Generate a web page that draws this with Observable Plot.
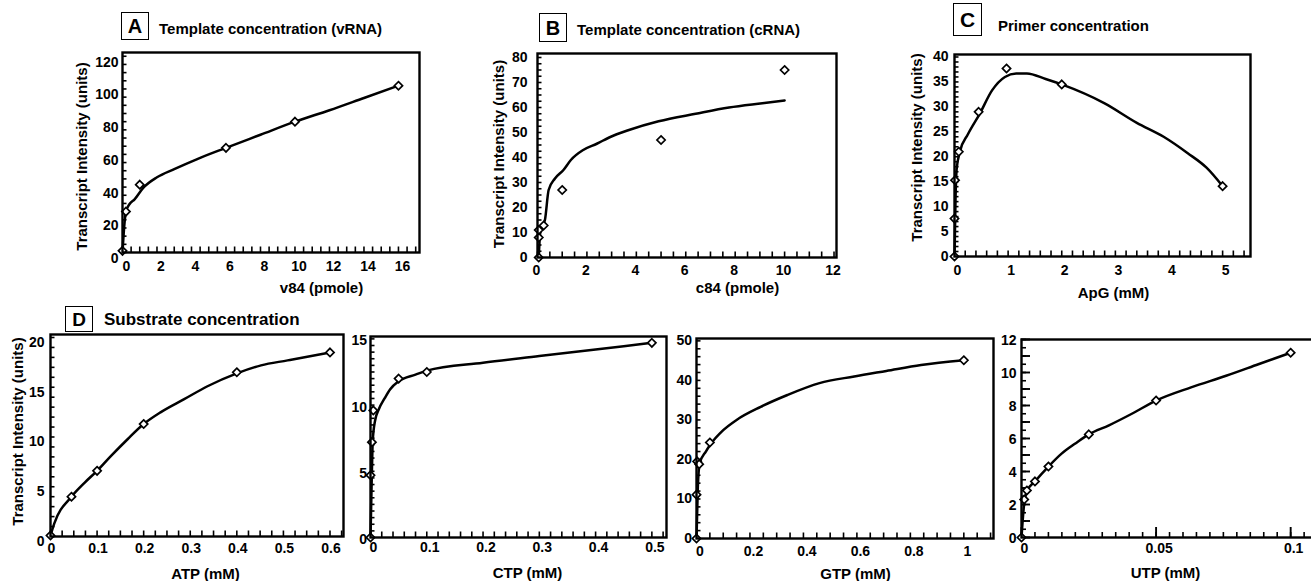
<!DOCTYPE html>
<html><head><meta charset="utf-8">
<script src="https://cdn.jsdelivr.net/npm/d3@7"></script>
<script src="https://cdn.jsdelivr.net/npm/@observablehq/plot@0.6"></script>
<style>
html,body{margin:0;padding:0;background:#fff;}
#fig{position:relative;width:1311px;height:581px;overflow:hidden;background:#fff;font-family:"Liberation Sans",Arial,Helvetica,sans-serif;color:#000;}
.panel{position:absolute;}
.panel svg{overflow:visible;max-width:none;display:block;}
.tag{position:absolute;box-sizing:border-box;border:1.6px solid #000;display:flex;align-items:center;justify-content:center;font-weight:bold;font-size:20px;line-height:1;}
.ttl{position:absolute;font-weight:bold;font-size:15px;line-height:1;white-space:nowrap;transform:translateY(-50%);}
</style></head><body><div id="fig"></div><script>
// ---------- data ----------
// A: template concentration (vRNA)
const aX = [0, 0.2, 1, 6, 10, 16];
const aY = [1, 25, 41.5, 64, 80, 102];
const aFitX = [0, 0.1, 0.2, 0.4, 0.7, 1.2, 2, 3, 4.3, 6, 8, 10, 12, 14, 16];
const aFitY = [0, 16, 25, 29.5, 32.5, 39.5, 46, 51, 57, 64, 72, 80, 87, 94.5, 102];
const aXTicks = [0, 2, 4, 6, 8, 10, 12, 14, 16];
const aYTicks = [0, 20, 40, 60, 80, 100, 120];
// B: template concentration (cRNA)
const bX = [0.05, 0.05, 0.05, 0.25, 1, 5, 10];
const bY = [0, 8, 11, 12.8, 27, 47, 75];
const bFitX = [0.05, 0.12, 0.3, 0.45, 0.7, 1.05, 1.35, 1.85, 2.4, 2.9, 3.7, 4.9, 6.4, 7.75, 9.1, 10];
const bFitY = [0, 11, 15, 27, 31.5, 35, 39, 43, 45.5, 48, 51, 54.5, 57.5, 60, 61.7, 62.8];
const bXTicks = [0, 2, 4, 6, 8, 10, 12];
const bYTicks = [0, 10, 20, 30, 40, 50, 60, 70, 80];
// C: primer concentration
const cX = [0, 0, 0.01, 0.08, 0.45, 0.97, 2, 5];
const cY = [0, 7.6, 15.3, 21, 29, 37.7, 34.5, 14.1];
const cFitX = [0, 0.02, 0.04, 0.1, 0.25, 0.47, 0.7, 0.94, 1.15, 1.35, 1.7, 2, 2.8, 3.4, 3.9, 4.35, 4.7, 5];
const cFitY = [0, 12, 17.5, 21, 24.5, 28.6, 33.3, 36, 36.7, 36.7, 35.6, 34.5, 30.7, 26.8, 24, 20.7, 17.8, 14.1];
const cXTicks = [0, 1, 2, 3, 4, 5];
const cYTicks = [0, 5, 10, 15, 20, 25, 30, 35, 40];
// D: substrate concentration — ATP
const atpX = [0, 0.045, 0.1, 0.2, 0.4, 0.6];
const atpY = [0.1, 4, 6.6, 11.3, 16.5, 18.5];
const atpFitX = [0, 0.008, 0.045, 0.073, 0.1, 0.13, 0.166, 0.2, 0.237, 0.287, 0.337, 0.4, 0.452, 0.509, 0.6];
const atpFitY = [0.1, 1.3, 4, 5.4, 6.6, 8.1, 9.8, 11.3, 12.5, 13.8, 15.1, 16.4, 17.2, 17.7, 18.5];
const atpXTicks = [0, 0.1, 0.2, 0.3, 0.4, 0.5, 0.6];
const atpYTicks = [0, 5, 10, 15, 20];
// CTP
const ctpX = [0, 0, 0.0025, 0.005, 0.05, 0.1, 0.5];
const ctpY = [0, 4.7, 7.2, 9.6, 12, 12.5, 14.7];
const ctpFitX = [0, 0.002, 0.004, 0.008, 0.015, 0.025, 0.035, 0.05, 0.08, 0.1, 0.2, 0.3, 0.4, 0.5];
const ctpFitY = [0, 4, 7.3, 8.8, 9.7, 10.5, 11.2, 11.8, 12.3, 12.6, 13.2, 13.7, 14.2, 14.7];
const ctpXTicks = [0, 0.1, 0.2, 0.3, 0.4, 0.5];
const ctpYTicks = [0, 5, 10, 15];
// GTP
const gtpX = [0, 0, 0.0025, 0.01, 0.05, 1];
const gtpY = [0, 11.1, 19.5, 18.8, 24.3, 45.1];
const gtpFitX = [0, 0.005, 0.012, 0.035, 0.05, 0.1, 0.15, 0.24, 0.34, 0.46, 0.59, 0.71, 0.84, 1];
const gtpFitY = [0, 13, 19, 22, 23.6, 27.4, 30, 33.3, 36.3, 39.3, 41, 42.4, 43.9, 45.1];
const gtpXTicks = [0, 0.2, 0.4, 0.6, 0.8, 1];
const gtpYTicks = [0, 10, 20, 30, 40, 50];
// UTP
const utpX = [0, 0.001, 0.002, 0.005, 0.01, 0.025, 0.05, 0.1];
const utpY = [0, 2.3, 2.85, 3.4, 4.3, 6.25, 8.3, 11.2];
const utpFitX = [0, 0.0009, 0.002, 0.005, 0.01, 0.015, 0.02, 0.025, 0.0325, 0.041, 0.05, 0.063, 0.076, 0.088, 0.1];
const utpFitY = [0, 1.9, 2.8, 3.4, 4.3, 5.1, 5.7, 6.25, 6.8, 7.5, 8.3, 9.1, 9.8, 10.5, 11.2];
const utpXTicks = [0, 0.05, 0.1];
const utpYTicks = [0, 2, 4, 6, 8, 10, 12];

const yTitle = "Transcript Intensity (units)";
// ------------------------------------------------

const FONT = "'Liberation Sans', Arial, Helvetica, sans-serif";
const fig = document.getElementById("fig");
const zip = (xs, ys) => xs.map((x, i) => ({x, y: ys[i]}));
const rng = (a, b, s) => d3.range(Math.round((b - a) / s) + 1).map(i => +(a + i * s).toFixed(6));

function panel(p) {
  const [L, T, R, B] = p.frame;
  const fw = R - L, fh = B - T, m = 60;
  const [x0, x1] = p.xDomain, [y0, y1] = p.yDomain;
  const ux = (x1 - x0) / fw, uy = (y1 - y0) / fh; // data units per pixel
  const marks = [];
  // inward tick marks along the bottom and left edges
  const xl = p.xMinorLen || 5.5, yl = p.yMinorLen || 4.5;
  marks.push(Plot.ruleX(p.xMinor, {x: d => d, y1: y0, y2: y0 + xl * uy, stroke: "#000", strokeWidth: 1.6}));
  if (p.xMajor) marks.push(Plot.ruleX(p.xMajor, {x: d => d, y1: y0, y2: y0 + 10 * uy, stroke: "#000", strokeWidth: 1.9}));
  marks.push(Plot.ruleY(p.yMinor, {y: d => d, x1: x0, x2: x0 + yl * ux, stroke: "#000", strokeWidth: 1.6}));
  if (p.yMajor) marks.push(Plot.ruleY(p.yMajor, {y: d => d, x1: x0, x2: x0 + 9 * ux, stroke: "#000", strokeWidth: 1.9}));
  marks.push(Plot.axisX(p.xTicks, {tickSize: 0, tickPadding: p.xPad, dx: p.xdx || 0, tickFormat: d => String(d), label: null, fontSize: 14, fontWeight: "bold"}));
  marks.push(Plot.axisY(p.yTicks, {tickSize: 0, tickPadding: p.yPad, dy: p.ydy || 0, tickFormat: d => String(d), label: null, fontSize: 14, fontWeight: "bold"}));
  marks.push(Plot.line(zip(p.fitX, p.fitY), {x: "x", y: "y", curve: "monotone-x", stroke: "#000", strokeWidth: 2.5}));
  marks.push(Plot.dot(zip(p.ptX, p.ptY), {x: "x", y: "y", symbol: "diamond2", r: 3.7, fill: "#fff", stroke: "#000", strokeWidth: 1.7}));
  marks.push(Plot.frame({stroke: "#000", strokeWidth: 2.4}));
  marks.push(Plot.text([p.xTitle], {text: d => d, frameAnchor: "bottom-left", textAnchor: "middle", lineAnchor: "middle",
    dx: p.xTitlePos[0] - L, dy: p.xTitlePos[1] - B, fontSize: 15, fontWeight: "bold"}));
  if (p.yTitlePos) marks.push(Plot.text([yTitle], {text: d => d, frameAnchor: "left", textAnchor: "middle", lineAnchor: "middle", rotate: -90,
    dx: p.yTitlePos[0] - L, dy: p.yTitlePos[1] - (T + B) / 2, fontSize: 15, fontWeight: "bold"}));
  const svg = Plot.plot({
    width: fw + 2 * m, height: fh + 2 * m, margin: m,
    x: {domain: p.xDomain}, y: {domain: p.yDomain},
    style: {fontFamily: FONT, fontSize: "14px", fontWeight: "bold", color: "#000", background: "transparent", overflow: "visible", maxWidth: "none"},
    marks
  });
  const div = document.createElement("div");
  div.className = "panel";
  div.style.left = (L - m) + "px";
  div.style.top = (T - m) + "px";
  div.style.width = (fw + 2 * m) + "px";
  div.appendChild(svg);
  fig.appendChild(div);
}

panel({frame: [122, 52, 419, 252], xDomain: [0, 17.22], yDomain: [0, 122.3],
  xTicks: aXTicks, yTicks: aYTicks, xMinor: rng(0, 17, 0.5), yMinor: rng(0, 120, 5),
  xPad: 9, yPad: 4, xdx: 4, ydy: 6,
  fitX: aFitX, fitY: aFitY, ptX: aX, ptY: aY,
  xTitle: "v84 (pmole)", xTitlePos: [321, 287.5], yTitlePos: [82, 156]});

panel({frame: [537, 53, 836, 257], xDomain: [0, 12.1], yDomain: [0, 81.6],
  xTicks: bXTicks, yTicks: bYTicks, xMinor: rng(0, 12, 0.5), yMinor: rng(0, 80, 2.5),
  xPad: 8, yPad: 10, xdx: -1, ydy: 0,
  fitX: bFitX, fitY: bFitY, ptX: bX, ptY: bY,
  xTitle: "c84 (pmole)", xTitlePos: [737, 288], yTitlePos: [499, 153.5]});

panel({frame: [954, 54, 1250, 256], xDomain: [0, 5.52], yDomain: [0, 40.5],
  xTicks: cXTicks, yTicks: cYTicks, xMinor: rng(0, 5.4, 0.2), yMinor: rng(0, 40, 1),
  xPad: 9, yPad: 6, xdx: 3, ydy: 0,
  fitX: cFitX, fitY: cFitY, ptX: cX, ptY: cY,
  xTitle: "ApG (mM)", xTitlePos: [1113, 292.5], yTitlePos: [917, 147]});

panel({frame: [50, 334, 343, 536], xDomain: [0, 0.629], yDomain: [0, 20.3],
  xTicks: atpXTicks, yTicks: atpYTicks, xMinor: rng(0, 0.625, 0.025), yMinor: rng(0, 20, 1),
  xPad: 7, yPad: 6, xdx: 1, ydy: 5,
  fitX: atpFitX, fitY: atpFitY, ptX: atpX, ptY: atpY,
  xTitle: "ATP (mM)", xTitlePos: [205, 573.5], yTitlePos: [17.5, 431]});

panel({frame: [370, 336, 666, 537], xDomain: [0, 0.526], yDomain: [0, 15.18],
  xTicks: ctpXTicks, yTicks: ctpYTicks, xMinor: rng(0, 0.52, 0.02), yMinor: rng(0, 15, 0.5),
  xPad: 5, yPad: 3.5, xdx: 3, ydy: 2,
  fitX: ctpFitX, fitY: ctpFitY, ptX: ctpX, ptY: ctpY,
  xTitle: "CTP (mM)", xTitlePos: [527, 573]});

panel({frame: [696, 338, 993, 538], xDomain: [0, 1.111], yDomain: [0, 50.6],
  xTicks: gtpXTicks, yTicks: gtpYTicks, xMinor: rng(0, 1.1, 0.05), yMinor: rng(0, 50, 2),
  xPad: 8, yPad: 4.5, xdx: 3.5, ydy: 0,
  fitX: gtpFitX, fitY: gtpFitY, ptX: gtpX, ptY: gtpY,
  xTitle: "GTP (mM)", xTitlePos: [855, 574]});

panel({frame: [1021, 339, 1330, 537], xDomain: [0, 0.1148], yDomain: [0, 12],
  xTicks: utpXTicks, yTicks: utpYTicks, xMinor: rng(0, 0.11, 0.005), xMinorLen: 5, xMajor: utpXTicks,
  yMinor: rng(0, 12, 0.5), yMinorLen: 5, yMajor: rng(0, 12, 1),
  xPad: 6, yPad: 5, xdx: 3, ydy: 1,
  fitX: utpFitX, fitY: utpFitY, ptX: utpX, ptY: utpY,
  xTitle: "UTP (mM)", xTitlePos: [1165, 573]});

// panel tags and headings
const tags = [
  {t: "A", l: 121, tp: 12, w: 28, h: 28, fs: 20},
  {t: "B", l: 539, tp: 13, w: 28, h: 29, fs: 20},
  {t: "C", l: 953, tp: 3, w: 29, h: 33, fs: 21},
  {t: "D", l: 65, tp: 306, w: 28, h: 26, fs: 19}
];
const heads = [
  {t: "Template concentration (vRNA)", l: 159, c: 27.5, fs: 15},
  {t: "Template concentration (cRNA)", l: 577, c: 29, fs: 15},
  {t: "Primer concentration", l: 998, c: 24.5, fs: 15},
  {t: "Substrate concentration", l: 104, c: 319, fs: 17}
];
for (const g of tags) {
  const d = document.createElement("div");
  d.className = "tag"; d.textContent = g.t;
  Object.assign(d.style, {left: g.l + "px", top: g.tp + "px", width: g.w + "px", height: g.h + "px", fontSize: g.fs + "px"});
  fig.appendChild(d);
}
for (const h of heads) {
  const d = document.createElement("div");
  d.className = "ttl"; d.textContent = h.t;
  Object.assign(d.style, {left: h.l + "px", top: h.c + "px", fontSize: h.fs + "px"});
  fig.appendChild(d);
}
</script></body></html>
